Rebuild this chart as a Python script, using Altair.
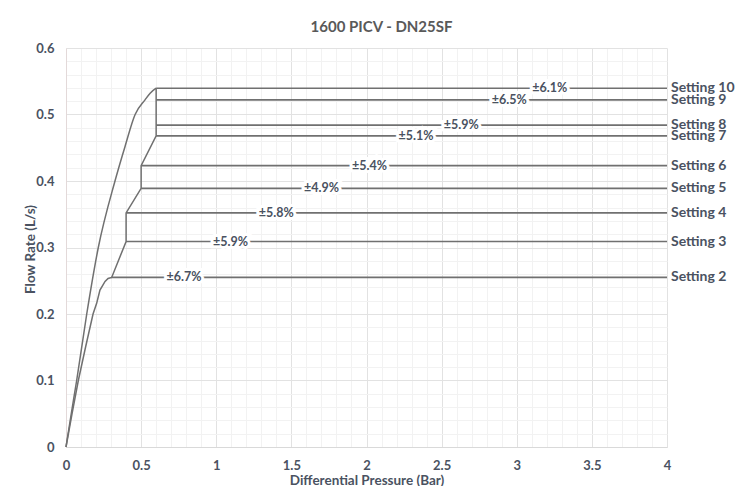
import altair as alt
import pandas as pd

# ---- data ----
settings = ["Setting 2", "Setting 3", "Setting 4", "Setting 5", "Setting 6",
            "Setting 7", "Setting 8", "Setting 9", "Setting 10"]
flow = [0.255, 0.309, 0.352, 0.389, 0.423, 0.468, 0.484, 0.522, 0.5395]
start_dp = [0.30, 0.40, 0.40, 0.50, 0.50, 0.60, 0.60, 0.60, 0.60]
accuracy = ["±6.7%", "±5.9%", "±5.8%", "±4.9%", "±5.4%", "±5.1%", "±5.9%", "±6.5%", "±6.1%"]
acc_dp = [0.785, 1.095, 1.40, 1.70, 2.02, 2.33, 2.63, 2.95, 3.22]
label_dy = [0, 0, 0, 0, 0, 1, -1, 0, 0]

upper_dp = [0, 0.035, 0.071, 0.138, 0.215, 0.326, 0.393, 0.46, 0.526, 0.56, 0.6]
upper_q = [0, 0.05, 0.10, 0.20, 0.30, 0.40, 0.452, 0.50, 0.522, 0.532, 0.5395]

lower_dp = [0, 0.04, 0.082, 0.13, 0.18, 0.204, 0.226, 0.26, 0.28, 0.304, 0.40, 0.40, 0.50, 0.50, 0.60, 0.60]
lower_q = [0, 0.05, 0.10, 0.15, 0.20, 0.216, 0.236, 0.249, 0.2535, 0.255, 0.309, 0.352, 0.389, 0.423, 0.468, 0.5395]

x_major = [0, 0.5, 1, 1.5, 2, 2.5, 3, 3.5, 4]
y_major = [0, 0.1, 0.2, 0.3, 0.4, 0.5, 0.6]
x_minor = [0.1, 0.2, 0.3, 0.4, 0.6, 0.7, 0.8, 0.9, 1.1, 1.2, 1.3, 1.4, 1.6, 1.7, 1.8, 1.9,
           2.1, 2.2, 2.3, 2.4, 2.6, 2.7, 2.8, 2.9, 3.1, 3.2, 3.3, 3.4, 3.6, 3.7, 3.8, 3.9]
y_minor = [0.02, 0.04, 0.06, 0.08, 0.12, 0.14, 0.16, 0.18, 0.22, 0.24, 0.26, 0.28,
           0.32, 0.34, 0.36, 0.38, 0.42, 0.44, 0.46, 0.48, 0.52, 0.54, 0.56, 0.58]

FONT = "Lato"
TXT = "#4a5261"
LINE = "#707070"

upper = pd.DataFrame({"dp": upper_dp, "q": upper_q, "i": range(len(upper_dp))})
lower = pd.DataFrame({"dp": lower_dp, "q": lower_q, "i": range(len(lower_dp))})
sets = pd.DataFrame({"setting": settings, "q": flow, "start": start_dp,
                     "acc": accuracy, "acc_dp": acc_dp, "dy": label_dy})

xs = alt.Scale(domain=[0, 4], nice=False, zero=False)
ys = alt.Scale(domain=[0, 0.6], nice=False, zero=False)

minor = alt.Chart(upper).mark_line(opacity=0).encode(
    x=alt.X("dp:Q", scale=xs, axis=alt.Axis(values=x_minor, labels=False, ticks=False, domain=False,
                                             grid=True, gridColor="#f2f2f2", gridWidth=1,
                                             orient="bottom", title=None)),
    y=alt.Y("q:Q", scale=ys, axis=alt.Axis(values=y_minor, labels=False, ticks=False, domain=False,
                                            grid=True, gridColor="#f2f2f2", gridWidth=1,
                                            orient="left", title=None)),
)

upper_line = alt.Chart(upper).mark_line(color=LINE, strokeWidth=1.5, interpolate="monotone").encode(
    x=alt.X("dp:Q", scale=xs, axis=alt.Axis(
        values=x_major, grid=True, gridColor="#e2e2e2", ticks=False, domain=True,
        domainColor="#d9d9d9", orient="bottom", labelFont=FONT, labelFontSize=13,
        labelFontWeight="bold", labelColor=TXT, labelPadding=12, labelFlush=False, format="~g",
        title="Differential Pressure (Bar)", titleFont=FONT, titleFontSize=13.5,
        titleFontWeight="bold", titleColor=TXT, titleX=300.5, titleY=33,
        titleBaseline="middle", titleAlign="center")),
    y=alt.Y("q:Q", scale=ys, axis=alt.Axis(
        values=y_major, grid=True, gridColor="#e2e2e2", ticks=False, domain=True,
        domainColor="#e3d9d9", orient="left", labelFont=FONT, labelFontSize=13,
        labelFontWeight="bold", labelColor=TXT, labelPadding=12, format="~g",
        title="Flow Rate (L/s)", titleFont=FONT, titleFontSize=13.5,
        titleFontWeight="bold", titleColor=TXT, titleX=-36, titleY=201,
        titleBaseline="middle", titleAlign="center", titleAngle=-90)),
    order="i:Q",
)

lower_line = alt.Chart(lower).mark_line(color=LINE, strokeWidth=1.5, interpolate="linear").encode(
    x=alt.X("dp:Q", scale=xs, axis=None),
    y=alt.Y("q:Q", scale=ys, axis=None),
    order="i:Q",
)

hlines = alt.Chart(sets).mark_rule(color=LINE, strokeWidth=1.7).encode(
    x=alt.X("start:Q", scale=xs, axis=None),
    x2=alt.datum(4),
    y=alt.Y("q:Q", scale=ys, axis=None),
)

halo = alt.Chart(sets).mark_text(font=FONT, fontSize=12.5, fontWeight="bold",
                                 stroke="white", strokeWidth=6, fill="white").encode(
    x=alt.X("acc_dp:Q", scale=xs, axis=None), y=alt.Y("q:Q", scale=ys, axis=None), text="acc:N")

acc_text = alt.Chart(sets).mark_text(font=FONT, fontSize=12.5, fontWeight="bold", color=TXT).encode(
    x=alt.X("acc_dp:Q", scale=xs, axis=None), y=alt.Y("q:Q", scale=ys, axis=None), text="acc:N")

set_text = alt.Chart(sets).mark_text(font=FONT, fontSize=14, fontWeight="bold", color=TXT,
                                     align="left", dx=4).encode(
    x=alt.X(datum=4, scale=xs, axis=None), y=alt.Y("q:Q", scale=ys, axis=None),
    yOffset=alt.YOffset("dy:Q"), text="setting:N")

chart = alt.layer(minor, upper_line, lower_line, hlines, halo, acc_text, set_text).resolve_axis(
    x="independent", y="independent"
).properties(
    width=601, height=399,
    title=alt.Title("1600 PICV - DN25SF", font=FONT, fontSize=15, fontWeight="bold",
                    color="#595959", anchor="middle", dx=15, offset=7),
    autosize=alt.AutoSizeParams(type="none"),
    padding={"left": 58, "top": 40, "right": 74, "bottom": 39},
).configure_view(stroke=None)

chart.save("out.html", embed_options={"renderer": "svg", "actions": False})
